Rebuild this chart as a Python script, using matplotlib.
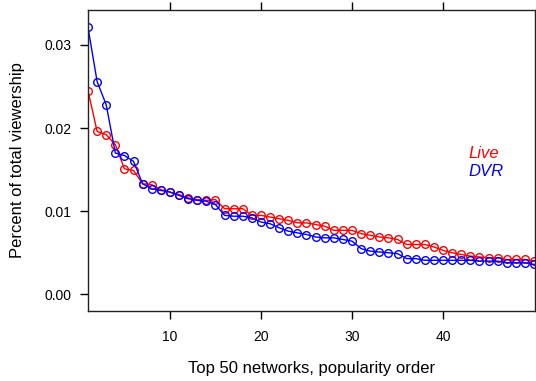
import numpy as np
import matplotlib
matplotlib.use("Agg")
import matplotlib.pyplot as plt

plt.rcParams["font.family"] = ["Liberation Sans", "DejaVu Sans"]

# ============================================
# DATA
# ============================================

rank = np.arange(1, 51)

live = [
    0.0245, 0.0196, 0.0192, 0.0180, 0.0151, 0.0149, 0.0133, 0.0132, 0.0126, 0.0123,
    0.0120, 0.0116, 0.0114, 0.0113, 0.0114, 0.0103, 0.0103, 0.0103, 0.0095, 0.0095,
    0.0093, 0.0091, 0.0089, 0.0086, 0.0086, 0.0084, 0.0082, 0.0077, 0.0077, 0.0077,
    0.0073, 0.0071, 0.0069, 0.0068, 0.0066, 0.0060, 0.0060, 0.0060, 0.0057, 0.0053,
    0.0050, 0.0048, 0.0046, 0.0045, 0.0044, 0.0044, 0.0042, 0.0042, 0.0042, 0.0040,
]

dvr = [
    0.0321, 0.0256, 0.0228, 0.0170, 0.0167, 0.0160, 0.0133, 0.0127, 0.0125, 0.0123,
    0.0119, 0.0115, 0.0113, 0.0112, 0.0108, 0.0095, 0.0094, 0.0094, 0.0092, 0.0087,
    0.0085, 0.0080, 0.0076, 0.0074, 0.0072, 0.0069, 0.0068, 0.0068, 0.0066, 0.0064,
    0.0055, 0.0052, 0.0051, 0.0050, 0.0049, 0.0043, 0.0043, 0.0041, 0.0041, 0.0041,
    0.0041, 0.0041, 0.0041, 0.0040, 0.0040, 0.0040, 0.0038, 0.0038, 0.0038, 0.0036,
]

x_ticks = [10, 20, 30, 40]
y_ticks = [0.00, 0.01, 0.02, 0.03]
y_tick_labels = ["0.00", "0.01", "0.02", "0.03"]

# ============================================
# FIGURE
# ============================================

fig = plt.figure(figsize=(5.36, 3.81), dpi=100)
ax = fig.add_axes([88 / 536, 70 / 381, 447 / 536, 301 / 381])

ax.plot(rank, live, color="#ff0000", linewidth=1.0, marker="o",
        markersize=5.5, markerfacecolor="none", markeredgewidth=1.0)
ax.plot(rank, dvr, color="#0000ff", linewidth=1.0, marker="o",
        markersize=5.5, markerfacecolor="none", markeredgewidth=1.0)

ax.set_xlim(1, 50.1)
ax.set_ylim(-0.0020, 0.0342)

ax.set_xticks(x_ticks)
ax.set_yticks(y_ticks)
ax.set_yticklabels(y_tick_labels)

ax.tick_params(axis="x", direction="out", length=6, width=1, pad=8,
               labelsize=10, top=True, labeltop=False)
ax.tick_params(axis="y", direction="out", length=6, width=1, pad=6,
               labelsize=10, right=True, labelright=False)

for side in ax.spines.values():
    side.set_linewidth(1.0)
    side.set_color("#222222")

ax.set_xlabel("Top 50 networks, popularity order", fontsize=12, labelpad=12)
ax.set_ylabel("Percent of total viewership", fontsize=12, labelpad=14)

# key
ax.text(42.8, 0.0170, "Live", color="#ff0000", fontsize=12,
        fontstyle="italic", ha="left", va="center")
ax.text(42.8, 0.01475, "DVR", color="#0000ff", fontsize=12,
        fontstyle="italic", ha="left", va="center")

fig.savefig("out.png", dpi=100)
plt.close(fig)
